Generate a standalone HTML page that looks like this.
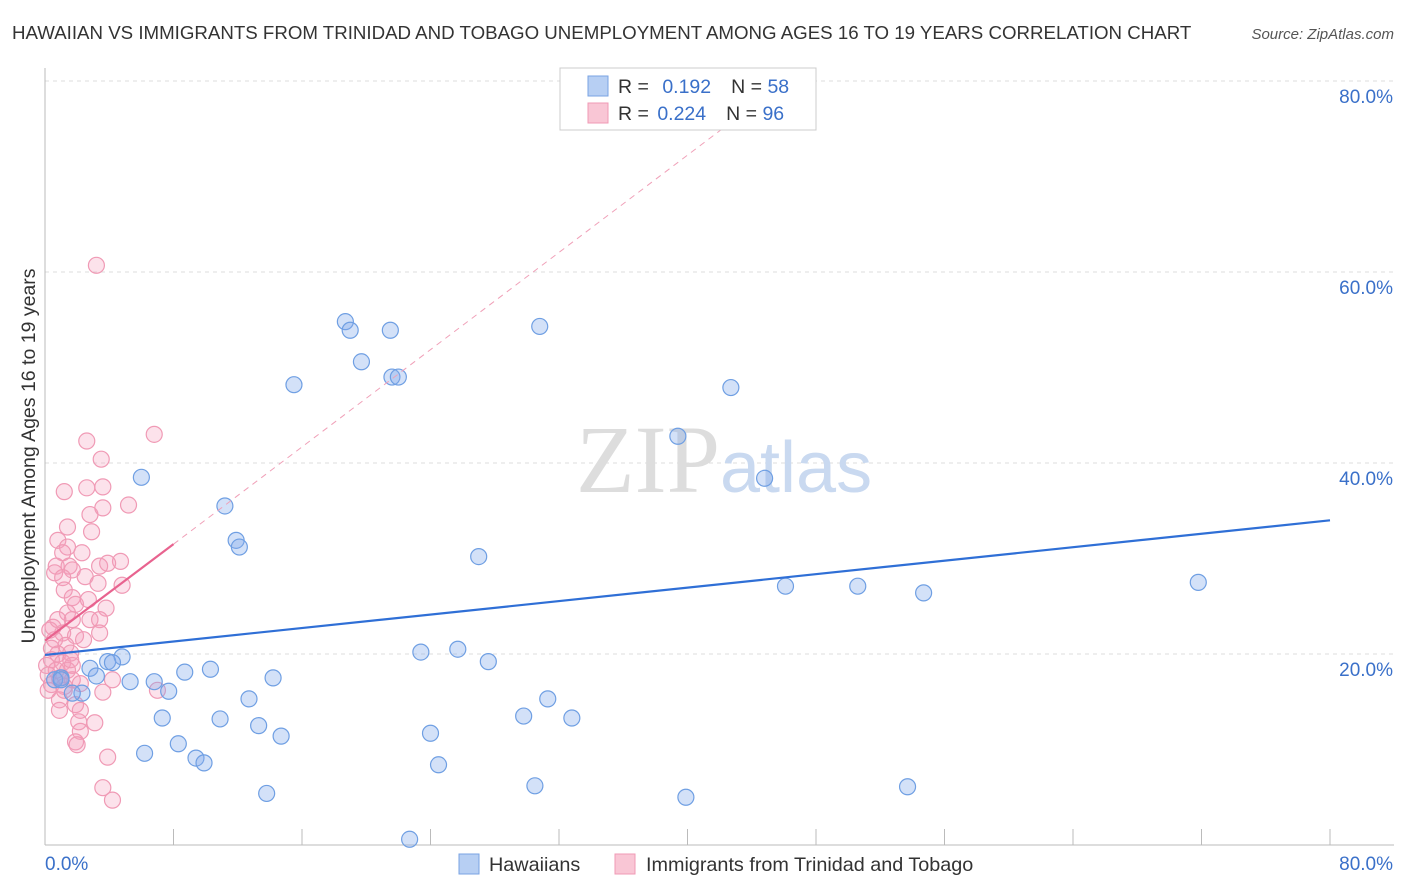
<!DOCTYPE html>
<html><head><meta charset="utf-8">
<style>
body{margin:0;background:#fff;font-family:"Liberation Sans",sans-serif;}
#wrap{position:relative;width:1406px;height:892px;overflow:hidden;}
</style></head>
<body>
<div id="wrap">
<svg id="chart" width="1406" height="892" style="position:absolute;left:0;top:0">
  <text x="12" y="39" font-size="18.7" fill="#333">HAWAIIAN VS IMMIGRANTS FROM TRINIDAD AND TOBAGO UNEMPLOYMENT AMONG AGES 16 TO 19 YEARS CORRELATION CHART</text>
  <text x="1394" y="39" font-size="15" fill="#555" font-style="italic" text-anchor="end">Source: ZipAtlas.com</text>
  <text x="35" y="456" font-size="19.5" fill="#333" text-anchor="middle" transform="rotate(-90 35 456)">Unemployment Among Ages 16 to 19 years</text>
  <g id="grid"></g>
  <g id="axes"></g>
  <text x="720" y="492" font-size="96" fill="#ddd" font-family="Liberation Serif" text-anchor="end">ZIP</text>
  <text x="720" y="492" font-size="72" fill="#c9d9f0">atlas</text>
  <g id="pts"></g>
  <g id="trends"></g>
  <g>
    <rect x="560" y="68" width="256" height="62" fill="#fff" stroke="#ccc"/>
    <rect x="588" y="76" width="20" height="20" fill="#b7cff3" stroke="#7aa3e3"/>
    <rect x="588" y="103" width="20" height="20" fill="#f9c6d5" stroke="#f09ab5"/>
    <text x="618" y="93" font-size="19.5" fill="#333">R = <tspan fill="#3a70c9" dx="8">0.192</tspan><tspan dx="20">N = </tspan><tspan fill="#3a70c9">58</tspan></text>
    <text x="618" y="120" font-size="19.5" fill="#333">R = <tspan fill="#3a70c9" dx="3">0.224</tspan><tspan dx="20">N = </tspan><tspan fill="#3a70c9">96</tspan></text>
  </g>
  <g>
    <rect x="459" y="854" width="20" height="20" fill="#b7cff3" stroke="#7aa3e3"/>
    <text x="489" y="871" font-size="19.8" fill="#333">Hawaiians</text>
    <rect x="615" y="854" width="20" height="20" fill="#f9c6d5" stroke="#f09ab5"/>
    <text x="646" y="871" font-size="19.8" fill="#333">Immigrants from Trinidad and Tobago</text>
  </g>
</svg>
</div>
<script>
const blueX=[18.7,19.0,21.5,19.7,21.6,22.0,15.5,30.8,42.7,39.4,44.8,6.0,11.2,11.9,12.1,27.0,46.1,50.6,54.7,71.8,23.4,25.7,27.6,4.8,3.9,4.2,2.8,3.2,1.0,0.6,5.3,6.8,7.7,8.7,10.3,14.2,12.7,2.3,1.7,7.3,10.9,13.3,14.7,8.3,6.2,9.4,9.9,24.0,24.5,29.8,31.3,32.8,13.8,30.5,39.9,53.7,22.7,1.0];
const blueY=[54.8,53.9,53.9,50.6,49.0,49.0,48.2,54.3,47.9,42.8,38.4,38.5,35.5,31.9,31.2,30.2,27.1,27.1,26.4,27.5,20.2,20.5,19.2,19.7,19.2,19.1,18.5,17.7,17.5,17.3,17.1,17.1,16.1,18.1,18.4,17.5,15.3,15.9,15.9,13.3,13.2,12.5,11.4,10.6,9.6,9.1,8.6,11.7,8.4,13.5,15.3,13.3,5.4,6.2,5.0,6.1,0.6,17.3];
const pinkX=[3.2,6.8,2.6,3.5,1.2,2.6,3.6,5.2,2.8,3.6,1.4,2.9,0.8,1.4,1.1,2.3,4.7,0.7,1.5,1.7,0.6,1.1,2.5,3.4,3.3,4.8,1.2,1.7,1.9,3.8,1.4,2.8,1.7,3.4,0.5,1.1,1.9,3.4,0.6,1.3,2.4,0.4,0.8,1.6,0.4,1.1,0.1,1.7,0.7,1.4,0.2,0.9,1.7,0.4,1.2,2.2,4.2,7.0,3.6,0.9,1.9,0.9,2.2,3.1,2.1,2.2,1.9,2.0,3.9,3.6,4.2,0.2,0.3,0.8,1.6,1.2,2.7,3.9];
const pinkY=[60.7,43.0,42.3,40.4,37.0,37.4,37.5,35.6,34.6,35.3,33.3,32.8,31.9,31.2,30.6,30.6,29.7,29.2,29.2,28.8,28.5,28.0,28.1,29.2,27.4,27.2,26.7,25.9,25.2,24.8,24.3,23.6,23.6,23.6,22.8,22.2,21.9,22.2,21.5,20.9,21.5,20.6,20.0,20.1,19.4,19.1,18.8,18.8,18.3,18.3,17.8,17.5,17.3,16.8,16.6,16.9,17.3,16.2,16.0,15.2,14.7,14.1,14.1,12.8,12.9,11.9,10.8,10.5,9.2,6.0,4.7,16.2,22.5,23.6,19.4,16.2,25.7,29.5];
const yTicks=[20,40,60,80];
const yTickLabels=["20.0%","40.0%","60.0%","80.0%"];
const xTicks=[0,8,16,24,32,40,48,56,64,72,80];
const blueTrend=[[0,19.9],[80,34.0]];
const pinkTrend=[[0,21.4],[8,31.5]];
const pinkDash=[[8,31.5],[45,78.6]];

const NS="http://www.w3.org/2000/svg";
const X=v=>45+v*(1285/80);
const Y=v=>845-v*(764/80);
function mk(tag,attrs,parent){const e=document.createElementNS(NS,tag);for(const k in attrs)e.setAttribute(k,attrs[k]);parent.appendChild(e);return e;}
const grid=document.getElementById('grid'),axes=document.getElementById('axes'),pts=document.getElementById('pts'),tr=document.getElementById('trends');
yTicks.forEach((t,i)=>{
  const l=mk('line',{x1:45,x2:1394,y1:Y(t),y2:Y(t),stroke:'#ddd','stroke-dasharray':'4,4'},grid);
  
  
  const tx=mk('text',{x:1393,y:Y(t)+22,'font-size':19,fill:'#3a70c9','text-anchor':'end'},axes);
  tx.textContent=yTickLabels[i];
  
  
});
const ax=mk('line',{x1:45,x2:45,y1:68,y2:845,stroke:'#bbb'},axes);


const bx=mk('line',{x1:45,x2:1394,y1:845,y2:845,stroke:'#bbb'},axes);


xTicks.forEach(t=>{
  const l=mk('line',{x1:X(t),x2:X(t),y1:829,y2:845,stroke:'#bbb'},axes);
  
  
});
const x0=mk('text',{x:45,y:870,'font-size':19,fill:'#3a70c9'},axes);x0.textContent='0.0%';


const x1=mk('text',{x:1393,y:870,'font-size':19,fill:'#3a70c9','text-anchor':'end'},axes);x1.textContent='80.0%';



pinkX.forEach((v,i)=>{
  const c=mk('circle',{cx:X(v),cy:Y(pinkY[i]),r:8,fill:'rgba(244,160,188,0.3)',stroke:'#f09ab5','stroke-width':1.2},pts);
  
  
});
blueX.forEach((v,i)=>{
  const c=mk('circle',{cx:X(v),cy:Y(blueY[i]),r:8,fill:'rgba(130,170,235,0.35)',stroke:'#6f9fe3','stroke-width':1.2},pts);
  
  
});
const bl=mk('line',{x1:X(blueTrend[0][0]),y1:Y(blueTrend[0][1]),x2:X(blueTrend[1][0]),y2:Y(blueTrend[1][1]),stroke:'#2f6fd6','stroke-width':2.2},tr);


const pd=mk('line',{x1:X(pinkDash[0][0]),y1:Y(pinkDash[0][1]),x2:X(pinkDash[1][0]),y2:Y(pinkDash[1][1]),stroke:'#f0a0b8','stroke-width':1,'stroke-dasharray':'6,5'},tr);


const pl=mk('line',{x1:X(pinkTrend[0][0]),y1:Y(pinkTrend[0][1]),x2:X(pinkTrend[1][0]),y2:Y(pinkTrend[1][1]),stroke:'#e8638f','stroke-width':2.2},tr);


</script>
</body></html>
